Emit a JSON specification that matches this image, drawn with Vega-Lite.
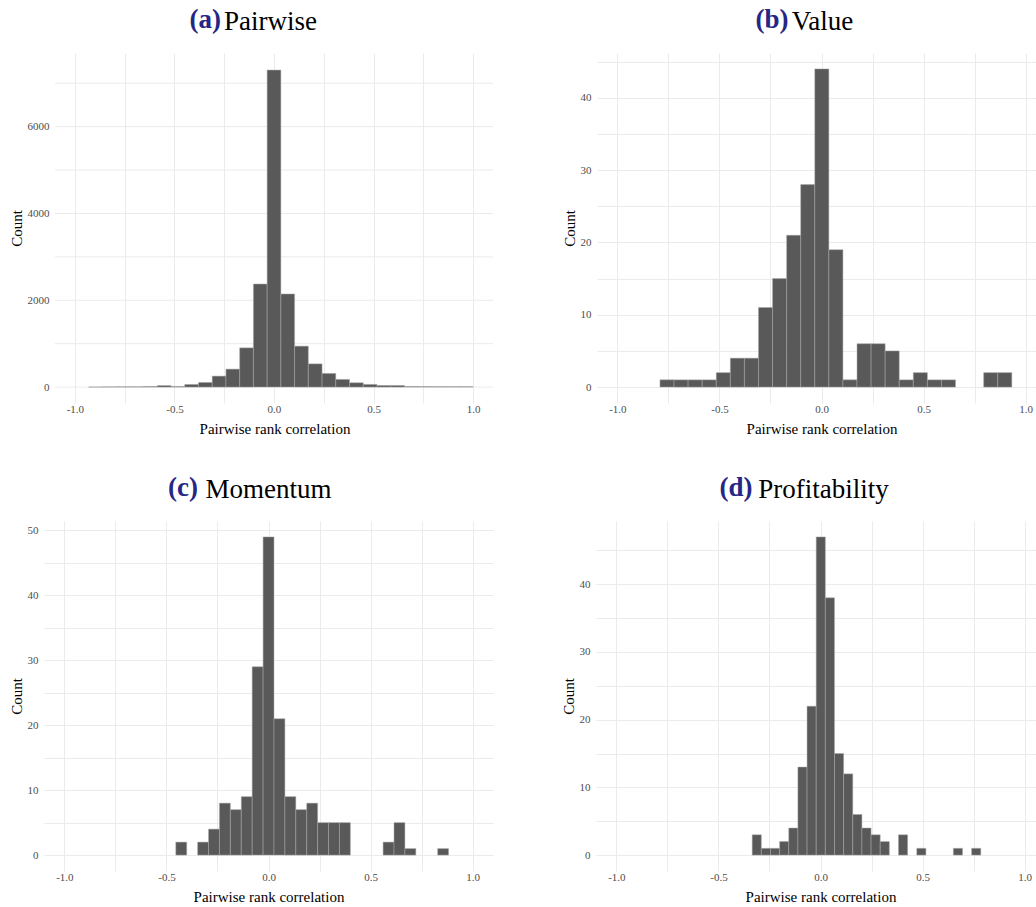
{
  "$schema": "https://vega.github.io/schema/vega-lite/v6.json",
  "background": "white",
  "padding": {"left": 9, "top": 6, "right": 0, "bottom": 0},
  "autosize": {"type": "pad"},
  "spacing": 38,
  "datasets": {
    "grid_a": [{"v": 0}, {"v": 1000}, {"v": 2000}, {"v": 3000}, {"v": 4000}, {"v": 5000}, {"v": 6000}, {"v": 7000}],
    "a": [
      {"x0": -0.9310, "x1": -0.8621, "count": 3},
      {"x0": -0.8621, "x1": -0.7931, "count": 6},
      {"x0": -0.7931, "x1": -0.7241, "count": 8},
      {"x0": -0.7241, "x1": -0.6552, "count": 8},
      {"x0": -0.6552, "x1": -0.5862, "count": 15},
      {"x0": -0.5862, "x1": -0.5172, "count": 35},
      {"x0": -0.5172, "x1": -0.4483, "count": 15},
      {"x0": -0.4483, "x1": -0.3793, "count": 61},
      {"x0": -0.3793, "x1": -0.3103, "count": 107},
      {"x0": -0.3103, "x1": -0.2414, "count": 253},
      {"x0": -0.2414, "x1": -0.1724, "count": 414},
      {"x0": -0.1724, "x1": -0.1034, "count": 904},
      {"x0": -0.1034, "x1": -0.0345, "count": 2375},
      {"x0": -0.0345, "x1": 0.0345, "count": 7303},
      {"x0": 0.0345, "x1": 0.1034, "count": 2145},
      {"x0": 0.1034, "x1": 0.1724, "count": 943},
      {"x0": 0.1724, "x1": 0.2414, "count": 535},
      {"x0": 0.2414, "x1": 0.3103, "count": 315},
      {"x0": 0.3103, "x1": 0.3793, "count": 177},
      {"x0": 0.3793, "x1": 0.4483, "count": 100},
      {"x0": 0.4483, "x1": 0.5172, "count": 62},
      {"x0": 0.5172, "x1": 0.5862, "count": 38},
      {"x0": 0.5862, "x1": 0.6552, "count": 38},
      {"x0": 0.6552, "x1": 0.7241, "count": 15},
      {"x0": 0.7241, "x1": 0.7931, "count": 12},
      {"x0": 0.7931, "x1": 0.8621, "count": 10},
      {"x0": 0.8621, "x1": 0.9310, "count": 10},
      {"x0": 0.9310, "x1": 1.0000, "count": 10}
    ],
    "b": [
      {"x0": -0.7915, "x1": -0.7225, "count": 1},
      {"x0": -0.7225, "x1": -0.6536, "count": 1},
      {"x0": -0.6536, "x1": -0.5846, "count": 1},
      {"x0": -0.5846, "x1": -0.5156, "count": 1},
      {"x0": -0.5156, "x1": -0.4467, "count": 2},
      {"x0": -0.4467, "x1": -0.3777, "count": 4},
      {"x0": -0.3777, "x1": -0.3088, "count": 4},
      {"x0": -0.3088, "x1": -0.2398, "count": 11},
      {"x0": -0.2398, "x1": -0.1708, "count": 15},
      {"x0": -0.1708, "x1": -0.1019, "count": 21},
      {"x0": -0.1019, "x1": -0.0329, "count": 28},
      {"x0": -0.0329, "x1": 0.0361, "count": 44},
      {"x0": 0.0361, "x1": 0.1050, "count": 19},
      {"x0": 0.1050, "x1": 0.1740, "count": 1},
      {"x0": 0.1740, "x1": 0.2430, "count": 6},
      {"x0": 0.2430, "x1": 0.3119, "count": 6},
      {"x0": 0.3119, "x1": 0.3809, "count": 5},
      {"x0": 0.3809, "x1": 0.4498, "count": 1},
      {"x0": 0.4498, "x1": 0.5188, "count": 2},
      {"x0": 0.5188, "x1": 0.5878, "count": 1},
      {"x0": 0.5878, "x1": 0.6567, "count": 1},
      {"x0": 0.7946, "x1": 0.8636, "count": 2},
      {"x0": 0.8636, "x1": 0.9326, "count": 2}
    ],
    "c": [
      {"x0": -0.4542, "x1": -0.4007, "count": 2},
      {"x0": -0.3473, "x1": -0.2938, "count": 2},
      {"x0": -0.2938, "x1": -0.2404, "count": 4},
      {"x0": -0.2404, "x1": -0.1869, "count": 8},
      {"x0": -0.1869, "x1": -0.1334, "count": 7},
      {"x0": -0.1334, "x1": -0.0800, "count": 9},
      {"x0": -0.0800, "x1": -0.0265, "count": 29},
      {"x0": -0.0265, "x1": 0.0269, "count": 49},
      {"x0": 0.0269, "x1": 0.0804, "count": 21},
      {"x0": 0.0804, "x1": 0.1338, "count": 9},
      {"x0": 0.1338, "x1": 0.1873, "count": 7},
      {"x0": 0.1873, "x1": 0.2408, "count": 8},
      {"x0": 0.2408, "x1": 0.2942, "count": 5},
      {"x0": 0.2942, "x1": 0.3477, "count": 5},
      {"x0": 0.3477, "x1": 0.4011, "count": 5},
      {"x0": 0.5615, "x1": 0.6150, "count": 2},
      {"x0": 0.6150, "x1": 0.6684, "count": 5},
      {"x0": 0.6684, "x1": 0.7219, "count": 1},
      {"x0": 0.8288, "x1": 0.8823, "count": 1}
    ],
    "d": [
      {"x0": -0.3347, "x1": -0.2899, "count": 3},
      {"x0": -0.2899, "x1": -0.2451, "count": 1},
      {"x0": -0.2451, "x1": -0.2003, "count": 1},
      {"x0": -0.2003, "x1": -0.1555, "count": 2},
      {"x0": -0.1555, "x1": -0.1107, "count": 4},
      {"x0": -0.1107, "x1": -0.0659, "count": 13},
      {"x0": -0.0659, "x1": -0.0211, "count": 22},
      {"x0": -0.0211, "x1": 0.0237, "count": 47},
      {"x0": 0.0237, "x1": 0.0685, "count": 38},
      {"x0": 0.0685, "x1": 0.1133, "count": 15},
      {"x0": 0.1133, "x1": 0.1581, "count": 12},
      {"x0": 0.1581, "x1": 0.2029, "count": 6},
      {"x0": 0.2029, "x1": 0.2477, "count": 4},
      {"x0": 0.2477, "x1": 0.2925, "count": 3},
      {"x0": 0.2925, "x1": 0.3373, "count": 2},
      {"x0": 0.3821, "x1": 0.4269, "count": 3},
      {"x0": 0.4717, "x1": 0.5165, "count": 1},
      {"x0": 0.6509, "x1": 0.6957, "count": 1},
      {"x0": 0.7405, "x1": 0.7853, "count": 1}
    ]
  },
  "vconcat": [
    {
      "spacing": 68,
      "hconcat": [
        {
          "title": {"text": "(a)", "color": "#262686", "fontWeight": "bold", "dx": -46, "dy": 40, "offset": 14},
          "vconcat": [
            {
              "width": 449, "height": 350,
              "title": {"text": "Pairwise", "dx": 2},
              "layer": [
                {
                  "data": {"name": "grid_a"},
                  "mark": {"type": "rule", "color": "#ebebeb", "strokeWidth": 1},
                  "encoding": {
                    "x": {"datum": -1.1, "type": "quantitative"},
                    "x2": {"datum": 1.1},
                    "y": {"field": "v", "type": "quantitative", "title": "Count"}
                  }
                },
                {
                  "data": {"name": "a"},
                  "mark": {"type": "rect", "color": "#595959", "stroke": "#a8a8a8", "strokeWidth": 0.5},
                  "encoding": {
                    "x": {"field": "x0", "type": "quantitative", "scale": {"domain": [-1.15525, 1.1], "nice": false, "zero": false},
                      "axis": {"title": "Pairwise rank correlation", "titleX": 230.5, "values": [-1, -0.75, -0.5, -0.25, 0, 0.25, 0.5, 0.75, 1],
                        "labelExpr": "abs(datum.value - round(datum.value*2)/2) < 1e-6 ? (datum.value < -1e-9 ? '-' : '') + format(abs(datum.value), '.1f') : ''"}},
                    "x2": {"field": "x1"},
                    "y": {"field": "count", "type": "quantitative", "scale": {"domain": [-366.5, 7696.5], "nice": false, "zero": false},
                      "axis": {"title": "Count", "grid": false, "offset": -11, "values": [0, 2000, 4000, 6000],
                        "labelExpr": "'' + datum.value"}},
                    "y2": {"datum": 0}
                  }
                }
              ]
            }
          ]
        },
        {
          "title": {"text": "(b)", "color": "#262686", "fontWeight": "bold", "dx": -32, "dy": 40, "offset": 14},
          "vconcat": [
            {
              "width": 449, "height": 350,
              "data": {"name": "b"},
              "title": {"text": "Value", "dx": 1},
              "mark": {"type": "rect", "color": "#595959", "stroke": "#a8a8a8", "strokeWidth": 0.5},
              "encoding": {
                "x": {"field": "x0", "type": "quantitative", "scale": {"domain": [-1.1, 1.1], "nice": false, "zero": false},
                  "axis": {"title": "Pairwise rank correlation", "values": [-1, -0.75, -0.5, -0.25, 0, 0.25, 0.5, 0.75, 1],
                    "labelExpr": "abs(datum.value - round(datum.value*2)/2) < 1e-6 ? (datum.value < -1e-9 ? '-' : '') + format(abs(datum.value), '.1f') : ''"}},
                "x2": {"field": "x1"},
                "y": {"field": "count", "type": "quantitative", "scale": {"domain": [-2.2, 46.2], "nice": false, "zero": false},
                  "axis": {"title": "Count", "values": [0, 5, 10, 15, 20, 25, 30, 35, 40, 45],
                    "labelExpr": "datum.value % 10 === 0 ? '' + datum.value : ''"}},
                "y2": {"datum": 0}
              }
            }
          ]
        }
      ]
    },
    {
      "spacing": 68,
      "hconcat": [
        {
          "title": {"text": "(c)", "color": "#262686", "fontWeight": "bold", "dx": -68, "dy": 40, "offset": 14},
          "vconcat": [
            {
              "width": 449, "height": 350,
              "data": {"name": "c"},
              "title": {"text": "Momentum", "dx": 0},
              "mark": {"type": "rect", "color": "#595959", "stroke": "#a8a8a8", "strokeWidth": 0.5},
              "encoding": {
                "x": {"field": "x0", "type": "quantitative", "scale": {"domain": [-1.1, 1.1], "nice": false, "zero": false},
                  "axis": {"title": "Pairwise rank correlation", "values": [-1, -0.75, -0.5, -0.25, 0, 0.25, 0.5, 0.75, 1],
                    "labelExpr": "abs(datum.value - round(datum.value*2)/2) < 1e-6 ? (datum.value < -1e-9 ? '-' : '') + format(abs(datum.value), '.1f') : ''"}},
                "x2": {"field": "x1"},
                "y": {"field": "count", "type": "quantitative", "scale": {"domain": [-2.45, 51.45], "nice": false, "zero": false},
                  "axis": {"title": "Count", "values": [0, 5, 10, 15, 20, 25, 30, 35, 40, 45, 50],
                    "labelExpr": "datum.value % 10 === 0 ? '' + datum.value : ''"}},
                "y2": {"datum": 0}
              }
            }
          ]
        },
        {
          "title": {"text": "(d)", "color": "#262686", "fontWeight": "bold", "dx": -67, "dy": 40, "offset": 14},
          "vconcat": [
            {
              "width": 449, "height": 350,
              "data": {"name": "d"},
              "title": {"text": "Profitability", "dx": 3},
              "mark": {"type": "rect", "color": "#595959", "stroke": "#a8a8a8", "strokeWidth": 0.5},
              "encoding": {
                "x": {"field": "x0", "type": "quantitative", "scale": {"domain": [-1.1, 1.1], "nice": false, "zero": false},
                  "axis": {"title": "Pairwise rank correlation", "values": [-1, -0.75, -0.5, -0.25, 0, 0.25, 0.5, 0.75, 1],
                    "labelExpr": "abs(datum.value - round(datum.value*2)/2) < 1e-6 ? (datum.value < -1e-9 ? '-' : '') + format(abs(datum.value), '.1f') : ''"}},
                "x2": {"field": "x1"},
                "y": {"field": "count", "type": "quantitative", "scale": {"domain": [-2.35, 49.35], "nice": false, "zero": false},
                  "axis": {"title": "Count", "values": [0, 5, 10, 15, 20, 25, 30, 35, 40, 45],
                    "labelExpr": "datum.value % 10 === 0 ? '' + datum.value : ''"}},
                "y2": {"datum": 0}
              }
            }
          ]
        }
      ]
    }
  ],
  "config": {
    "font": "Liberation Serif",
    "view": {"stroke": null},
    "axis": {"domain": false, "ticks": false, "grid": true, "gridColor": "#ebebeb", "gridWidth": 1,
      "labelColor": "#4d4d4d", "labelFontSize": 11, "labelFont": "Liberation Serif", "labelOverlap": false, "labelFlush": false,
      "titleFont": "Liberation Serif", "titleFontSize": 15, "titleFontWeight": "normal", "titleColor": "#000000"},
    "axisX": {"labelPadding": 0, "titlePadding": 7},
    "axisY": {"labelPadding": 6, "titlePadding": 3},
    "title": {"font": "Liberation Serif", "fontSize": 27, "fontWeight": "normal", "color": "#000000", "anchor": "middle", "offset": 17}
  }
}
